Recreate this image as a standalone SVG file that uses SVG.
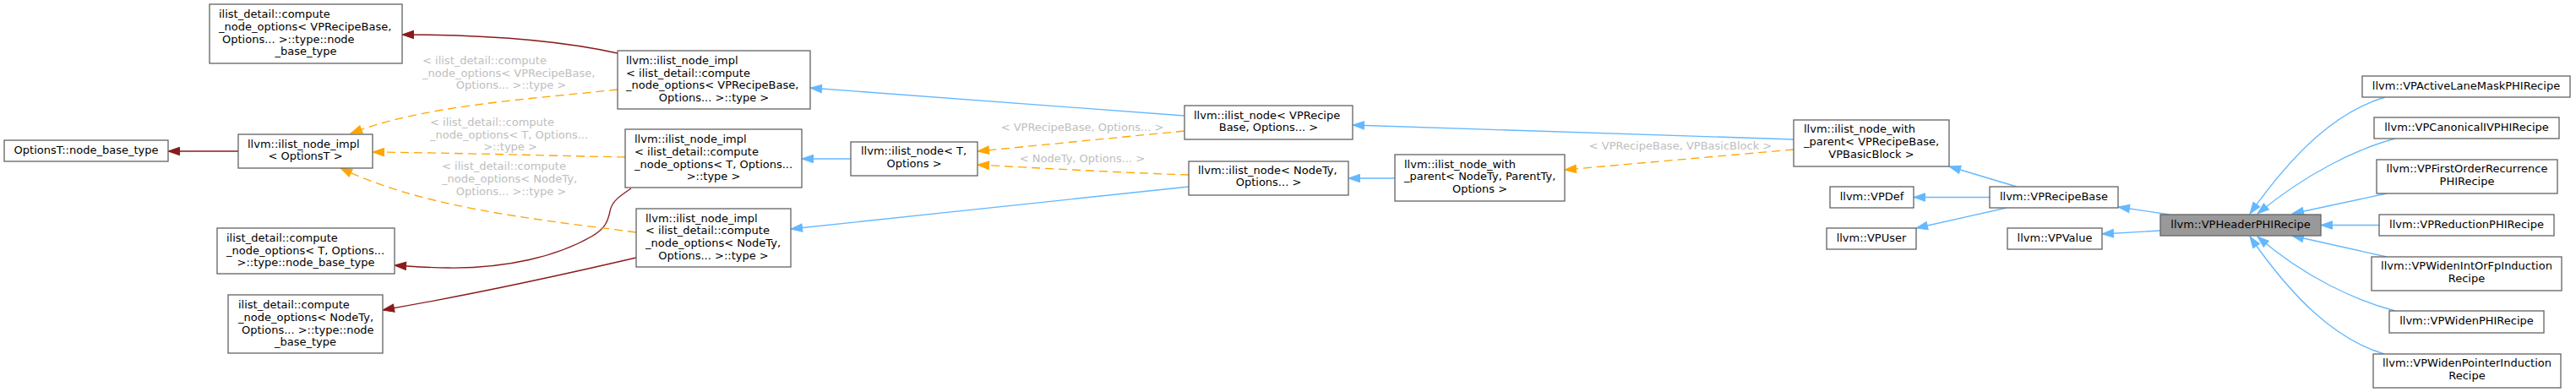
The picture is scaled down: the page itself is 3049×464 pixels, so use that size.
<svg xmlns="http://www.w3.org/2000/svg" width="3049" height="464" viewBox="0 0 3049 464">
<style>
.n rect{fill:#ffffff;stroke:#666666;stroke-width:1.33}
.n.cur rect{fill:#999999;stroke:#666666}
text{font-family:"DejaVu Sans","Liberation Sans",sans-serif;font-size:13px;fill:#000000}
.m{text-anchor:middle}
.lb{fill:#bebebe}
.e{fill:none;stroke-width:1.33}
.pub{stroke:#63b8ff}
.prv{stroke:#8b1a1a}
.tpl{stroke:#ffa500;stroke-dasharray:10,6}
</style>
<defs>
<marker id="ab" markerWidth="15" markerHeight="11" refX="13.5" refY="5" orient="auto" markerUnits="userSpaceOnUse" overflow="visible"><path d="M0,0.3 L13.5,5 L0,9.7 z" fill="#63b8ff" stroke="#63b8ff"/></marker>
<marker id="ar" markerWidth="15" markerHeight="11" refX="13.5" refY="5" orient="auto" markerUnits="userSpaceOnUse" overflow="visible"><path d="M0,0.3 L13.5,5 L0,9.7 z" fill="#8b1a1a" stroke="#8b1a1a"/></marker>
<marker id="ao" markerWidth="15" markerHeight="11" refX="13.5" refY="5" orient="auto" markerUnits="userSpaceOnUse" overflow="visible"><path d="M0,0.3 L13.5,5 L0,9.7 z" fill="#ffa500" stroke="#ffa500"/></marker>
</defs>

<g id="connectors">
<path class="e prv" d="M282,179 L199,179" marker-end="url(#ar)"/>
<path class="e prv" d="M731,63 C650,45 560,41 476,41" marker-end="url(#ar)"/>
<path class="e prv" d="M747,223 C735,231 724,238 722,250 C719,265 714,272 700,280 C660,303 600,318 530,317 C505,317 485,315 467,314" marker-end="url(#ar)"/>
<path class="e prv" d="M753,305 C680,322 580,345 453,367" marker-end="url(#ar)"/>
<path class="e tpl" d="M731,106 C620,118 500,125 415,158" marker-end="url(#ao)"/>
<path class="e tpl" d="M740,186 C640,184 540,181 441,180" marker-end="url(#ao)"/>
<path class="e tpl" d="M753,275 C620,258 500,245 403,199" marker-end="url(#ao)"/>
<text class="lb" x="500" y="76">&lt; ilist_detail::compute</text>
<text class="lb" x="500" y="91">_node_options&lt; VPRecipeBase,</text>
<text class="lb m" x="605" y="105">Options... &gt;::type &gt;</text>
<text class="lb" x="509" y="149">&lt; ilist_detail::compute</text>
<text class="lb" x="509" y="164">_node_options&lt; T, Options...</text>
<text class="lb m" x="604" y="178">&gt;::type &gt;</text>
<text class="lb" x="523" y="201">&lt; ilist_detail::compute</text>
<text class="lb" x="523" y="216">_node_options&lt; NodeTy,</text>
<text class="lb m" x="605" y="231">Options... &gt;::type &gt;</text>
<path class="e pub" d="M1007,188 L949,188" marker-end="url(#ab)"/>
<path class="e pub" d="M1402,137 L959,104" marker-end="url(#ab)"/>
<path class="e pub" d="M1407,221 L936,271" marker-end="url(#ab)"/>
<path class="e tpl" d="M1402,155 C1320,163 1240,171 1157,179" marker-end="url(#ao)"/>
<text class="lb m" x="1281" y="155">&lt; VPRecipeBase, Options... &gt;</text>
<path class="e tpl" d="M1407,207 C1320,204 1230,199 1157,195" marker-end="url(#ao)"/>
<text class="lb m" x="1281" y="192">&lt; NodeTy, Options... &gt;</text>
<path class="e pub" d="M1651,211 L1596,211" marker-end="url(#ab)"/>
<path class="e pub" d="M2123,165 L1601,148" marker-end="url(#ab)"/>
<path class="e tpl" d="M2123,177 L1852,201" marker-end="url(#ao)"/>
<text class="lb m" x="1989" y="177">&lt; VPRecipeBase, VPBasicBlock &gt;</text>
<path class="e pub" d="M2387,221 L2307,197" marker-end="url(#ab)"/>
<path class="e pub" d="M2355,233.5 L2265,233.5" marker-end="url(#ab)"/>
<path class="e pub" d="M2375,246 L2268,270" marker-end="url(#ab)"/>
<path class="e pub" d="M2568,254 L2507,245" marker-end="url(#ab)"/>
<path class="e pub" d="M2557,273 L2488,277" marker-end="url(#ab)"/>
<path class="e pub" d="M2823,115 C2765,132 2715,180 2663,253" marker-end="url(#ab)"/>
<path class="e pub" d="M2835,164 C2790,176 2730,205 2672,253" marker-end="url(#ab)"/>
<path class="e pub" d="M2825,229 L2713,253" marker-end="url(#ab)"/>
<path class="e pub" d="M2816,266.5 L2747,266.5" marker-end="url(#ab)"/>
<path class="e pub" d="M2825,304 L2713,279" marker-end="url(#ab)"/>
<path class="e pub" d="M2835,368 C2790,356 2730,330 2672,280" marker-end="url(#ab)"/>
<path class="e pub" d="M2822,419 C2765,402 2715,355 2663,280" marker-end="url(#ab)"/>
</g>

<g id="node1" class="n"><rect x="248" y="5" width="228" height="70"/>
<text x="259" y="21">ilist_detail::compute</text>
<text x="259" y="36">_node_options&lt; VPRecipeBase,</text>
<text x="263" y="51">Options... &gt;::type::node</text>
<text class="m" x="362" y="65">_base_type</text></g>

<g id="node2" class="n"><rect x="5" y="166" width="194" height="25"/>
<text class="m" x="102" y="182">OptionsT::node_base_type</text></g>

<g id="node3" class="n"><rect x="282" y="159" width="159" height="40"/>
<text x="293" y="175">llvm::ilist_node_impl</text>
<text class="m" x="361.5" y="189">&lt; OptionsT &gt;</text></g>

<g id="node4" class="n"><rect x="257" y="270" width="210" height="54"/>
<text x="268" y="286">ilist_detail::compute</text>
<text x="268" y="301">_node_options&lt; T, Options...</text>
<text class="m" x="362" y="315">&gt;::type::node_base_type</text></g>

<g id="node5" class="n"><rect x="270" y="349" width="183" height="69"/>
<text x="282" y="365">ilist_detail::compute</text>
<text x="282" y="380">_node_options&lt; NodeTy,</text>
<text x="286" y="395">Options... &gt;::type::node</text>
<text class="m" x="361.5" y="409">_base_type</text></g>

<g id="node6" class="n"><rect x="731" y="60" width="228" height="69"/>
<text x="741" y="76">llvm::ilist_node_impl</text>
<text x="741" y="91">&lt; ilist_detail::compute</text>
<text x="741" y="105">_node_options&lt; VPRecipeBase,</text>
<text class="m" x="845" y="120">Options... &gt;::type &gt;</text></g>

<g id="node7" class="n"><rect x="740" y="153" width="209" height="69"/>
<text x="751" y="169">llvm::ilist_node_impl</text>
<text x="751" y="184">&lt; ilist_detail::compute</text>
<text x="751" y="199">_node_options&lt; T, Options...</text>
<text class="m" x="844.5" y="213">&gt;::type &gt;</text></g>

<g id="node8" class="n"><rect x="753" y="247" width="183" height="69"/>
<text x="764" y="263">llvm::ilist_node_impl</text>
<text x="764" y="277">&lt; ilist_detail::compute</text>
<text x="764" y="292">_node_options&lt; NodeTy,</text>
<text class="m" x="844.5" y="307">Options... &gt;::type &gt;</text></g>

<g id="node9" class="n"><rect x="1007" y="168" width="150" height="40"/>
<text x="1019" y="183">llvm::ilist_node&lt; T,</text>
<text class="m" x="1082" y="198">Options &gt;</text></g>

<g id="node10" class="n"><rect x="1402" y="125" width="199" height="40"/>
<text x="1413" y="141">llvm::ilist_node&lt; VPRecipe</text>
<text class="m" x="1501.5" y="155">Base, Options... &gt;</text></g>

<g id="node11" class="n"><rect x="1407" y="191" width="189" height="40"/>
<text x="1418" y="206">llvm::ilist_node&lt; NodeTy,</text>
<text class="m" x="1501.5" y="220">Options... &gt;</text></g>

<g id="node12" class="n"><rect x="1651" y="183" width="201" height="55"/>
<text x="1662" y="198.5">llvm::ilist_node_with</text>
<text x="1662" y="213">_parent&lt; NodeTy, ParentTy,</text>
<text class="m" x="1751.5" y="228">Options &gt;</text></g>

<g id="node13" class="n"><rect x="2123" y="142" width="184" height="55"/>
<text x="2135" y="157">llvm::ilist_node_with</text>
<text x="2135" y="172">_parent&lt; VPRecipeBase,</text>
<text class="m" x="2215" y="187">VPBasicBlock &gt;</text></g>

<g id="node14" class="n"><rect x="2166" y="221" width="99" height="25"/>
<text class="m" x="2215.5" y="237">llvm::VPDef</text></g>

<g id="node15" class="n"><rect x="2162" y="270" width="106" height="25"/>
<text class="m" x="2215" y="286">llvm::VPUser</text></g>

<g id="node16" class="n"><rect x="2355" y="221" width="152" height="25"/>
<text class="m" x="2431" y="237">llvm::VPRecipeBase</text></g>

<g id="node17" class="n"><rect x="2376" y="270" width="112" height="25"/>
<text class="m" x="2432" y="286">llvm::VPValue</text></g>

<g id="node18" class="n cur"><rect x="2557" y="254" width="190" height="25"/>
<text class="m" x="2652" y="270">llvm::VPHeaderPHIRecipe</text></g>

<g id="node19" class="n"><rect x="2796" y="90" width="246" height="25"/>
<text class="m" x="2919" y="106">llvm::VPActiveLaneMaskPHIRecipe</text></g>

<g id="node20" class="n"><rect x="2810" y="139" width="219" height="25"/>
<text class="m" x="2919.5" y="155">llvm::VPCanonicalIVPHIRecipe</text></g>

<g id="node21" class="n"><rect x="2813" y="189" width="214" height="40"/>
<text class="m" x="2920" y="204">llvm::VPFirstOrderRecurrence</text>
<text class="m" x="2920" y="219">PHIRecipe</text></g>

<g id="node22" class="n"><rect x="2816" y="254" width="207" height="25"/>
<text class="m" x="2919.5" y="270">llvm::VPReductionPHIRecipe</text></g>

<g id="node23" class="n"><rect x="2807" y="304" width="225" height="40"/>
<text class="m" x="2919.5" y="319">llvm::VPWidenIntOrFpInduction</text>
<text class="m" x="2919.5" y="334">Recipe</text></g>

<g id="node24" class="n"><rect x="2828" y="368" width="183" height="26"/>
<text class="m" x="2919.5" y="384">llvm::VPWidenPHIRecipe</text></g>

<g id="node25" class="n"><rect x="2809" y="419" width="222" height="40"/>
<text class="m" x="2920" y="434">llvm::VPWidenPointerInduction</text>
<text class="m" x="2920" y="449">Recipe</text></g>
</svg>
